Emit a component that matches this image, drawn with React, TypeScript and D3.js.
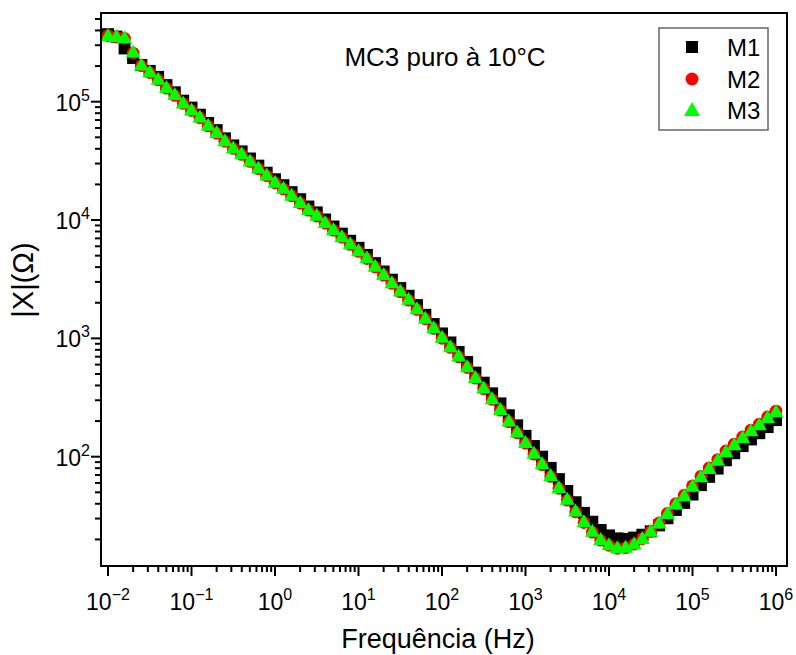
import React from "react";
import * as d3 from "d3";

const freqHz = [
  0.01, 0.0126, 0.0158, 0.02, 0.0251, 0.0316, 0.0398, 0.0501, 0.0631, 0.0794,
  0.1, 0.126, 0.158, 0.2, 0.251, 0.316, 0.398, 0.501, 0.631, 0.794,
  1, 1.26, 1.58, 2, 2.51, 3.16, 3.98, 5.01, 6.31, 7.94,
  10, 12.6, 15.8, 20, 25.1, 31.6, 39.8, 50.1, 63.1, 79.4,
  100, 126, 158, 200, 251, 316, 398, 501, 631, 794,
  1000, 1260, 1580, 2000, 2510, 3160, 3980, 5010, 6310, 7940,
  10000, 12600, 15800, 20000, 25100, 31600, 39800, 50100, 63100, 79400,
  100000, 126000, 158000, 200000, 251000, 316000, 398000, 501000, 631000, 794000,
  1000000,
];

const m1 = [
  372000, 355000, 282000, 234000, 204000, 182000, 162000, 138000, 120000, 102000,
  89100, 77600, 66100, 57500, 49000, 42700, 38000, 33100, 28800, 25100,
  22100, 19700, 17200, 15000, 13000, 11600, 10100, 8810, 7670, 6680,
  5820, 5070, 4320, 3670, 3130, 2660, 2290, 1910, 1580, 1320,
  1100, 923, 767, 631, 513, 422, 343, 282, 224, 184,
  150, 123, 100, 80.4, 64.6, 51.3, 41.2, 33.5, 28.2, 24.0,
  21.6, 20.4, 20.2, 20.7, 21.9, 23.4, 26.3, 30.2, 35.5, 40.7,
  47.9, 57.5, 67.6, 79.4, 93.3, 107, 123, 140, 158, 178,
  204,
];

const m2 = [
  362000, 352000, 343000, 258000, 201000, 176000, 153000, 130000, 113000, 96500,
  84000, 73000, 62300, 54200, 46200, 40200, 35800, 31200, 27100, 23700,
  20600, 18300, 16000, 13900, 12100, 10800, 9420, 8200, 7140, 6220,
  5420, 4720, 4010, 3420, 2910, 2470, 2100, 1750, 1460, 1210,
  1000, 838, 697, 566, 460, 374, 304, 247, 197, 159,
  130, 105, 85.5, 68.0, 54.0, 42.9, 34.1, 27.7, 23.0, 19.7,
  17.8, 16.8, 17.0, 18.2, 20.3, 23.4, 27.6, 33.3, 40.1, 47.3,
  56.8, 68.4, 80.4, 94.6, 112, 128, 147, 168, 189, 217,
  243,
];

const m3 = [
  363000, 355000, 347000, 263000, 204000, 178000, 155000, 132000, 115000, 97700,
  85100, 74100, 63100, 55000, 46800, 40700, 36300, 31600, 27500, 24000,
  20900, 18600, 16200, 14100, 12300, 11000, 9550, 8320, 7240, 6310,
  5500, 4790, 4070, 3470, 2950, 2510, 2140, 1780, 1480, 1230,
  1020, 851, 708, 575, 468, 380, 309, 251, 200, 162,
  132, 107, 87.1, 69.2, 55.0, 43.7, 34.7, 28.2, 23.4, 20.0,
  18.0, 17.0, 17.2, 18.4, 20.4, 23.4, 27.5, 33.1, 39.8, 46.8,
  56.2, 67.6, 79.4, 93.3, 110, 126, 145, 166, 186, 214,
  240,
];

const seriesNames = ["M1", "M2", "M3"];
const xMajorExps = [-2, -1, 0, 1, 2, 3, 4, 5, 6];
const yMajorExps = [2, 3, 4, 5];
const titleText = "MC3 puro à 10°C";
const xTitle = "Frequência (Hz)";
const yTitle = "|X|(Ω)";

const FONT = "'Liberation Sans', Arial, Helvetica, sans-serif";

export default function App() {
  const W = 796;
  const H = 655;
  const L = 101, R = 787, T = 13, B = 566;

  const x = d3.scaleLog().domain([Math.pow(10, -2.0838), Math.pow(10, 6.1317)]).range([L, R]);
  const y = d3.scaleLog().domain([Math.pow(10, 1.0763), Math.pow(10, 5.7496)]).range([B, T]);

  const xMinor: number[] = [];
  for (let e = -2; e <= 5; e++) for (let k = 2; k <= 9; k++) xMinor.push(k * Math.pow(10, e));
  const yMinor: number[] = [];
  for (let e = 1; e <= 5; e++) for (let k = 2; k <= 9; k++) {
    const v = k * Math.pow(10, e);
    const py = y(v);
    if (py >= T && py <= B) yMinor.push(v);
  }

  const sq = 12;
  const cr = 6.3;
  const tw = 15, th = 13;
  const tri = (cx: number, cy: number, w: number, h: number) =>
    `M${cx},${cy - h / 2 - 1}L${cx + w / 2},${cy + h / 2 - 1}L${cx - w / 2},${cy + h / 2 - 1}Z`;

  const sup = (e: number) => (e < 0 ? "\u2212" + Math.abs(e) : String(e));

  const legendRows = [47, 79, 110];

  return (
    <svg width={W} height={H} style={{ position: "absolute", left: 0, top: 0, background: "#fff" }} fontFamily={FONT}>
      <rect x={0} y={0} width={W} height={H} fill="#fff" />

      {/* data */}
      <g>
        {freqHz.map((f, i) => (
          <rect key={"a" + i} x={x(f) - sq / 2} y={y(m1[i]) - sq / 2} width={sq} height={sq} fill="#000" />
        ))}
        {freqHz.map((f, i) => (
          <circle key={"b" + i} cx={x(f)} cy={y(m2[i])} r={cr} fill="#ff0000" />
        ))}
        {freqHz.map((f, i) => (
          <path key={"c" + i} d={tri(x(f), y(m3[i]), tw, th)} fill="#00ff00" />
        ))}
      </g>

      {/* frame */}
      <rect x={L} y={T} width={R - L} height={B - T} fill="none" stroke="#000" strokeWidth={2} />

      {/* x ticks */}
      {xMajorExps.map((e) => {
        const px = x(Math.pow(10, e));
        return (
          <g key={"xm" + e}>
            <line x1={px} x2={px} y1={B} y2={B + 10} stroke="#000" strokeWidth={2} />
            <text x={px} y={610} textAnchor="middle" fontSize={23} fill="#000">
              10<tspan dy={-10} fontSize={16}>{sup(e)}</tspan>
            </text>
          </g>
        );
      })}
      {xMinor.map((v, i) => {
        const px = x(v);
        return <line key={"xn" + i} x1={px} x2={px} y1={B} y2={B + 6} stroke="#000" strokeWidth={2} />;
      })}

      {/* y ticks */}
      {yMajorExps.map((e) => {
        const py = y(Math.pow(10, e));
        return (
          <g key={"ym" + e}>
            <line x1={L} x2={L - 10} y1={py} y2={py} stroke="#000" strokeWidth={2} />
            <text x={90} y={py + 9} textAnchor="end" fontSize={23} fill="#000">
              10<tspan dy={-10} fontSize={16}>{sup(e)}</tspan>
            </text>
          </g>
        );
      })}
      {yMinor.map((v, i) => {
        const py = y(v);
        return <line key={"yn" + i} x1={L} x2={L - 6} y1={py} y2={py} stroke="#000" strokeWidth={2} />;
      })}

      {/* titles */}
      <text x={445} y={66} textAnchor="middle" fontSize={26} fill="#000">{titleText}</text>
      <text x={438} y={648} textAnchor="middle" fontSize={27} fill="#000">{xTitle}</text>
      <text transform={`translate(33,${280}) rotate(-90)`} textAnchor="middle" fontSize={29} fill="#000">{yTitle}</text>

      {/* legend */}
      <rect x={659} y={28} width={109} height={102} fill="#fff" stroke="#666" strokeWidth={1.5} />
      <rect x={692 - 6} y={legendRows[0] - 6} width={12} height={12} fill="#000" />
      <circle cx={692} cy={legendRows[1]} r={6.5} fill="#ff0000" />
      <path d={tri(692, legendRows[2], 16, 14)} fill="#00ff00" />
      {seriesNames.map((n, i) => (
        <text key={n} x={727} y={legendRows[i] + 9} fontSize={24} fill="#000">{n}</text>
      ))}
    </svg>
  );
}
